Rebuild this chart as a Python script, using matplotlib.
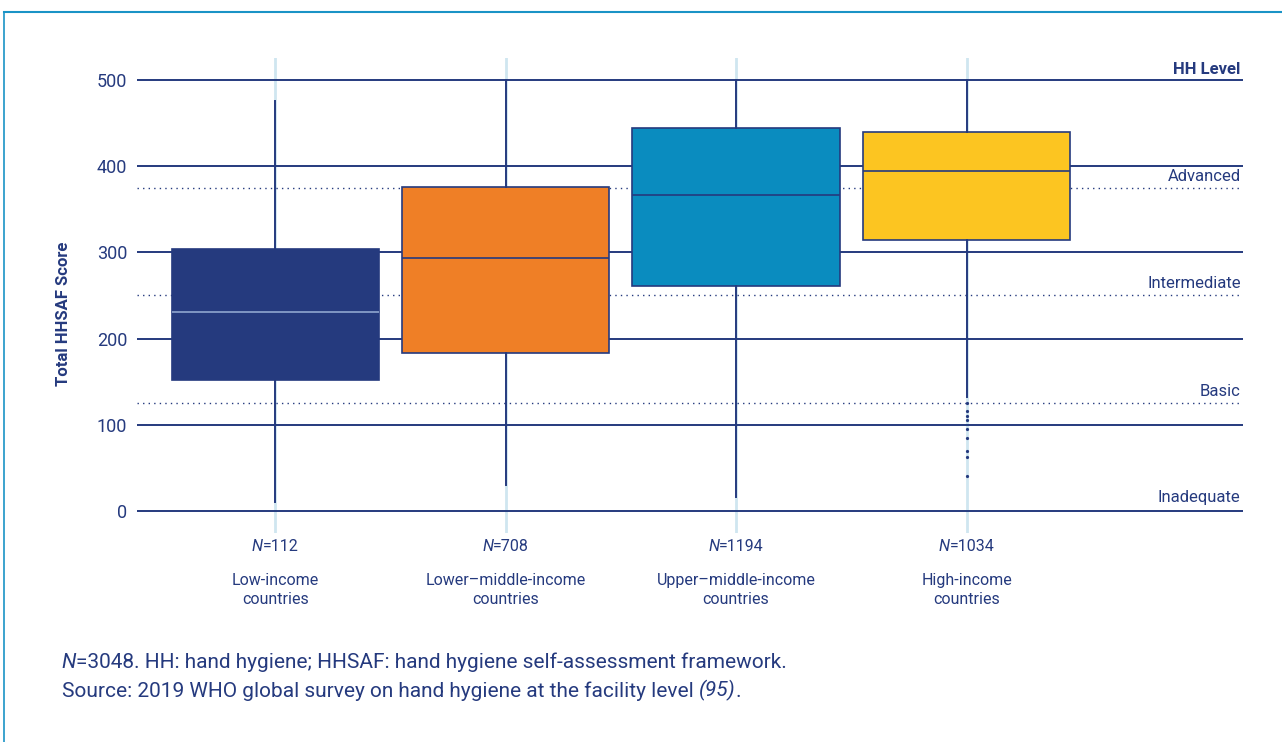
import matplotlib.pyplot as plt
from matplotlib.lines import Line2D

# data
groups = ['Low-income\ncountries', 'Lower\u2013middle-income\ncountries',
          'Upper\u2013middle-income\ncountries', 'High-income\ncountries']
n_obs = [112, 708, 1194, 1034]
q1 = [152, 183, 261, 314]
median = [231, 293, 367, 394]
q3 = [304, 376, 444, 440]
whis_lo = [10, 30, 16, 132]
whis_hi = [476, 500, 500, 500]
high_outliers = [125, 116, 110, 105, 95, 85, 70, 63, 40]

levels = ['Inadequate', 'Basic', 'Intermediate', 'Advanced']
level_cuts = [125, 250, 375]
level_label_y = [16, 139, 264, 388]

NAVY = '#253a7e'
box_colors = ['#253a7e', '#ef7f26', '#0a8cbf', '#fcc521']
median_colors = ['#8fa6cf', NAVY, NAVY, NAVY]

plt.rcParams['font.family'] = ['Roboto', 'DejaVu Sans']

fig = plt.figure(figsize=(12.82, 7.42), dpi=100)
ax = fig.add_axes([0.1069, 0.2823, 0.8627, 0.639])

# light vertical guide lines
for i in range(len(groups)):
    ax.axvline(i, color='#cfe6f0', lw=2, zorder=0)

# grid and level lines
for y in range(0, 501, 100):
    ax.axhline(y, color=NAVY, lw=1.4, zorder=1)
for y in level_cuts:
    ax.axhline(y, color=NAVY, lw=1, ls=(0, (1, 3)), zorder=1)

stats = []
for i in range(len(groups)):
    stats.append(dict(med=median[i], q1=q1[i], q3=q3[i],
                      whislo=whis_lo[i], whishi=whis_hi[i],
                      fliers=high_outliers if i == 3 else []))

bp = ax.bxp(stats, positions=range(len(groups)), widths=0.9,
            patch_artist=True, showcaps=False,
            whiskerprops=dict(color=NAVY, lw=1.4),
            flierprops=dict(marker='o', markersize=1.3, markerfacecolor=NAVY,
                            markeredgecolor=NAVY),
            manage_ticks=False, zorder=3)
for patch, c in zip(bp['boxes'], box_colors):
    patch.set_facecolor(c)
    patch.set_edgecolor(NAVY)
    patch.set_linewidth(1.2)
for med, c in zip(bp['medians'], median_colors):
    med.set_color(c)
    med.set_linewidth(1.2)

ax.set_xlim(-0.6, 4.2)
ax.set_ylim(-25, 525)
ax.set_yticks(range(0, 501, 100))
ax.tick_params(axis='y', length=0, pad=7, labelsize=13, labelcolor=NAVY)
ax.set_xticks([])
for s in ax.spines.values():
    s.set_visible(False)
ax.set_ylabel('Total HHSAF Score', fontsize=12, fontweight='bold', color=NAVY)
ax.yaxis.set_label_coords(-0.06, 0.461)

# level labels on the right
ax.text(4.19, 503, 'HH Level', ha='right', va='bottom', fontsize=12,
        fontweight='bold', color=NAVY)
for lab, y in zip(levels, level_label_y):
    ax.text(4.19, y, lab, ha='right', va='center', fontsize=12, color=NAVY)

fig.canvas.draw()
rend = fig.canvas.get_renderer()
to_fig = fig.transFigure.inverted()


def run_text(x, y, parts, size, center=False):
    # pieces of one line side by side, (text, italic) pairs, figure coords
    arts = []
    for s, it in parts:
        t = fig.text(x, y, s, fontsize=size, color=NAVY, va='baseline',
                     style='italic' if it else 'normal')
        bb = t.get_window_extent(renderer=rend)
        x = to_fig.transform((bb.x1, bb.y0))[0]
        arts.append(t)
    if center:
        shift = (x - arts[0].get_position()[0]) / 2
        for t in arts:
            px, py = t.get_position()
            t.set_position((px - shift, py))


# category labels
for i, (g, n) in enumerate(zip(groups, n_obs)):
    cx, cy = to_fig.transform(ax.transData.transform((i, -47)))
    run_text(cx, cy, [('N', True), (f'={n}', False)], 11.5, center=True)
    ax.text(i, -92, g, ha='center', va='center', fontsize=11.5,
            color=NAVY, linespacing=1.35)

# footnote
run_text(0.048, 0.1, [('N', True), ('=3048. HH: hand hygiene; HHSAF: hand hygiene '
                                    'self-assessment framework.', False)], 15)
run_text(0.048, 0.061, [('Source: 2019 WHO global survey on hand hygiene at the '
                         'facility level ', False), ('(95)', True), ('.', False)], 15)

# frame
fig.add_artist(Line2D([0.003, 1.0], [1 - 12 / 742, 1 - 12 / 742],
                      transform=fig.transFigure, color='#1a93c6', lw=1.5))
fig.add_artist(Line2D([0.0035, 0.0035], [0, 1 - 12 / 742],
                      transform=fig.transFigure, color='#1a93c6', lw=1.2))

fig.savefig('out.png', dpi=100)
